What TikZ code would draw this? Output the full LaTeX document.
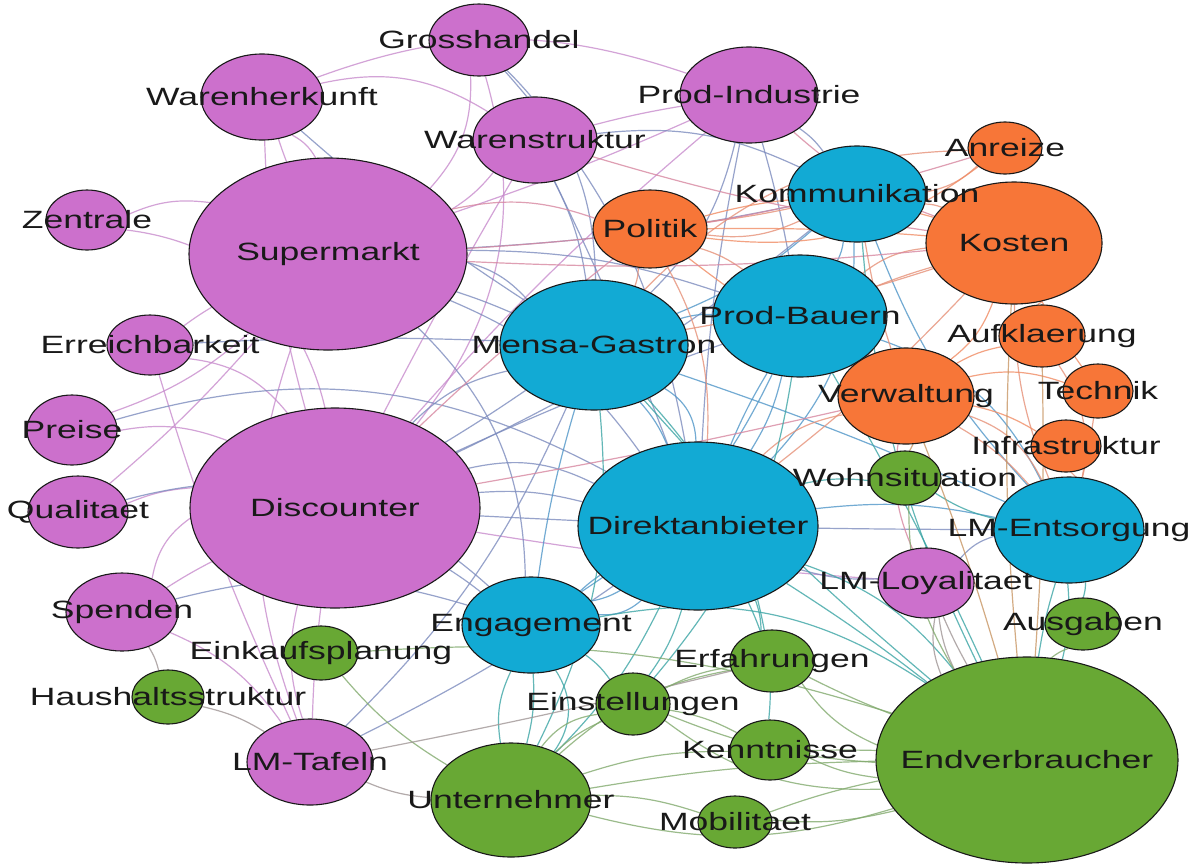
\documentclass[tikz,border=0pt]{standalone}
\usepackage{fontspec}
\newfontfamily\lbf[FakeStretch=1.42]{Liberation Sans}
\usetikzlibrary{shapes.geometric}
\definecolor{cP}{RGB}{204,112,204}
\definecolor{cB}{RGB}{18,170,212}
\definecolor{cO}{RGB}{247,118,56}
\definecolor{cG}{RGB}{104,168,52}
\definecolor{epp}{RGB}{200,140,205}
\definecolor{epb}{RGB}{125,140,190}
\definecolor{ebb}{RGB}{80,150,200}
\definecolor{ebo}{RGB}{230,145,120}
\definecolor{eoo}{RGB}{240,140,100}
\definecolor{ebg}{RGB}{60,165,165}
\definecolor{egg}{RGB}{130,170,110}
\definecolor{epg}{RGB}{160,150,150}
\definecolor{epo}{RGB}{215,135,160}
\definecolor{ego}{RGB}{200,150,100}
\pgfdeclarelayer{paper}
\pgfdeclarelayer{edges}
\pgfdeclarelayer{labels}
\pgfsetlayers{paper,edges,main,labels}
\newcommand{\Nd}[6]{\node[#6, minimum width=#4*2pt, minimum height=#5*2pt] (#1) at (#2,#3) {};}
\newcommand{\Ed}[4]{\pgfmathsetmacro{\bnd}{1.3*(#4)+9}\draw[#1] (#2) to[bend left=\bnd] (#3);}
\newcommand{\Lb}[2]{\node[lbl] (#1-l) at (#1) {#2};}
\tikzset{
  nd/.style={ellipse, draw=black!90, line width=1.1pt, inner sep=0pt},
  np/.style={nd, fill=cP}, nb/.style={nd, fill=cB},
  no/.style={nd, fill=cO}, ng/.style={nd, fill=cG},
  lbl/.style={font=\lbf\fontsize{25}{25}\selectfont, text=black!90, inner sep=0pt},
  e/.style={line width=1.2pt, opacity=0.8},
  pp/.style={e, draw=epp}, pb/.style={e, draw=epb}, bb/.style={e, draw=ebb},
  bo/.style={e, draw=ebo}, oo/.style={e, draw=eoo}, bg/.style={e, draw=ebg},
  gg/.style={e, draw=egg}, pg/.style={e, draw=epg}, po/.style={e, draw=epo},
  go/.style={e, draw=ego}
}
\begin{document}
\begin{tikzpicture}[x=1pt, y=-1pt]
\begin{pgfonlayer}{paper}
\fill[white] (0,0) rectangle (1202,863);
\end{pgfonlayer}
\useasboundingbox (0,0) rectangle (1202,863);
% nodes
\Nd{gro}{479}{40}{50}{36}{np}
\Nd{wh}{262}{97}{61}{43}{np}
\Nd{ws}{535}{140}{62}{43}{np}
\Nd{pi}{749}{95}{69}{48}{np}
\Nd{anr}{1005}{148}{37}{26}{no}
\Nd{kom}{857}{194}{69}{48}{nb}
\Nd{pol}{650}{229}{57}{39}{no}
\Nd{kos}{1014}{243}{88}{61}{no}
\Nd{zen}{87}{220}{41}{30}{np}
\Nd{sup}{328}{254}{139}{96}{np}
\Nd{erb}{150}{345}{43}{30}{np}
\Nd{men}{594}{345}{94}{65}{nb}
\Nd{pb}{800}{316}{87}{61}{nb}
\Nd{auf}{1042}{336}{43}{31}{no}
\Nd{ver}{906}{396}{68}{48}{no}
\Nd{tec}{1098}{391}{35}{27}{no}
\Nd{pre}{72}{430}{45}{35}{np}
\Nd{inf}{1066}{446}{35}{26}{no}
\Nd{wohn}{905}{478}{36}{27}{ng}
\Nd{qua}{78}{512}{50}{36}{np}
\Nd{dis}{335}{508}{145}{100}{np}
\Nd{dir}{698}{526}{120}{84}{nb}
\Nd{ent}{1069}{530}{75}{53}{nb}
\Nd{loy}{926}{583}{48}{35}{np}
\Nd{spe}{122}{612}{56}{39}{np}
\Nd{eng}{531}{625}{69}{48}{nb}
\Nd{aus}{1083}{624}{38}{26}{ng}
\Nd{eink}{321}{653}{37}{27}{ng}
\Nd{erf}{772}{661}{42}{31}{ng}
\Nd{hh}{168}{697}{36}{27}{ng}
\Nd{est}{633}{704}{37}{31}{ng}
\Nd{kenn}{770}{750}{40}{30}{ng}
\Nd{taf}{310}{762}{63}{43}{np}
\Nd{end}{1027}{760}{151}{103}{ng}
\Nd{unt}{511}{800}{80}{57}{ng}
\Nd{mob}{735}{822}{37}{26}{ng}
% edges
\begin{pgfonlayer}{edges}
% purple-purple
\Ed{pp}{gro}{sup}{10}\Ed{pp}{gro}{dis}{14}
\Ed{pp}{wh}{sup}{5}\Ed{pp}{wh}{sup}{-8}\Ed{pp}{wh}{dis}{-12}
\Ed{pp}{wh}{ws}{10}\Ed{pp}{wh}{pi}{8}
\Ed{pp}{zen}{sup}{5}\Ed{pp}{zen}{dis}{20}
\Ed{pp}{erb}{sup}{-5}\Ed{pp}{erb}{dis}{10}\Ed{pp}{erb}{taf}{-10}
\Ed{pp}{pre}{sup}{-15}\Ed{pp}{pre}{dis}{5}
\Ed{pp}{qua}{sup}{-10}\Ed{pp}{qua}{dis}{0}
\Ed{pp}{spe}{dis}{-5}\Ed{pp}{spe}{dis}{10}\Ed{pp}{spe}{taf}{5}
\Ed{pg}{spe}{hh}{0}\Ed{pg}{hh}{taf}{0}
\Ed{pp}{taf}{dis}{5}\Ed{pp}{taf}{dis}{-5}\Ed{pp}{taf}{sup}{8}
\Ed{pp}{loy}{dis}{-5}
\Ed{pp}{pi}{sup}{-5}\Ed{pp}{pi}{dis}{-10}
\Ed{pp}{ws}{sup}{0}\Ed{pp}{ws}{dis}{-8}\Ed{pp}{ws}{pi}{-5}
% purple-blue
\Ed{pb}{gro}{men}{10}\Ed{pb}{gro}{dir}{5}\Ed{pb}{wh}{men}{-10}
\Ed{pb}{ws}{men}{0}\Ed{pb}{ws}{dir}{-5}\Ed{pb}{ws}{kom}{5}
\Ed{pb}{pi}{kom}{0}\Ed{pb}{pi}{pb}{-5}\Ed{pb}{pi}{dir}{-10}\Ed{pb}{pi}{men}{5}
\Ed{pb}{sup}{men}{5}\Ed{pb}{sup}{men}{-5}\Ed{pb}{sup}{kom}{-10}
\Ed{pb}{sup}{pb}{0}\Ed{pb}{sup}{dir}{5}\Ed{pb}{sup}{eng}{10}
\Ed{pb}{dis}{men}{5}\Ed{pb}{dis}{men}{-8}\Ed{pb}{dis}{dir}{0}\Ed{pb}{dis}{dir}{8}
\Ed{pb}{dis}{pb}{-5}\Ed{pb}{dis}{eng}{-5}\Ed{pb}{dis}{kom}{-12}\Ed{pb}{dis}{ent}{-8}
\Ed{pb}{pre}{dir}{10}\Ed{pb}{qua}{eng}{15}\Ed{pb}{spe}{eng}{5}
\Ed{pb}{taf}{dir}{-10}\Ed{pb}{taf}{men}{-15}\Ed{pb}{loy}{dir}{0}
\Ed{pb}{loy}{ent}{5}\Ed{pb}{erb}{men}{-5}
% blue-blue
\Ed{bb}{kom}{men}{0}\Ed{bb}{kom}{pb}{0}\Ed{bb}{kom}{dir}{10}
\Ed{bb}{men}{dir}{0}\Ed{bb}{men}{dir}{15}\Ed{bb}{men}{pb}{0}\Ed{bb}{men}{eng}{-10}
\Ed{bb}{pb}{dir}{0}\Ed{bb}{pb}{dir}{-10}\Ed{bb}{pb}{ent}{10}\Ed{bb}{pb}{eng}{5}
\Ed{bb}{dir}{eng}{0}\Ed{bb}{dir}{eng}{10}\Ed{bb}{dir}{eng}{-10}
\Ed{bb}{dir}{ent}{0}\Ed{bb}{men}{ent}{-5}\Ed{bb}{kom}{ent}{-15}
% blue-orange
\Ed{bo}{kom}{pol}{5}\Ed{bo}{kom}{pol}{-5}\Ed{bo}{kom}{kos}{0}\Ed{bo}{kom}{ver}{-10}
\Ed{bo}{pol}{men}{0}\Ed{bo}{pol}{pb}{0}\Ed{bo}{pol}{dir}{5}
\Ed{bo}{men}{kos}{-10}\Ed{bo}{men}{anr}{10}\Ed{bo}{pb}{kos}{5}\Ed{bo}{pb}{kos}{-5}
\Ed{bo}{pb}{ver}{0}\Ed{bo}{dir}{ver}{5}\Ed{bo}{dir}{kos}{-10}
\Ed{bo}{ver}{ent}{0}\Ed{bo}{ver}{ent}{10}\Ed{bo}{inf}{ent}{0}\Ed{bo}{tec}{ent}{-5}
\Ed{bo}{kos}{ent}{-15}\Ed{bo}{auf}{ent}{10}\Ed{bo}{anr}{kom}{5}
% orange-orange
\Ed{oo}{pol}{kos}{5}\Ed{oo}{pol}{kos}{-5}\Ed{oo}{pol}{ver}{-10}\Ed{oo}{kos}{ver}{5}
\Ed{oo}{kos}{auf}{0}\Ed{oo}{ver}{auf}{0}\Ed{oo}{ver}{tec}{5}\Ed{oo}{ver}{inf}{0}
\Ed{oo}{anr}{pol}{10}\Ed{oo}{kos}{tec}{-10}
% purple-orange
\Ed{po}{sup}{pol}{5}\Ed{po}{sup}{kos}{-10}\Ed{po}{sup}{anr}{-12}\Ed{po}{pi}{kos}{-15}
\Ed{po}{ws}{kos}{-10}\Ed{po}{dis}{pol}{-5}\Ed{po}{dis}{ver}{-8}\Ed{po}{loy}{ver}{5}
% blue-green
\Ed{bg}{dir}{end}{5}\Ed{bg}{dir}{end}{-5}\Ed{bg}{dir}{unt}{0}\Ed{bg}{dir}{est}{0}
\Ed{bg}{dir}{erf}{0}\Ed{bg}{dir}{kenn}{5}\Ed{bg}{dir}{wohn}{0}
\Ed{bg}{eng}{unt}{20}\Ed{bg}{eng}{unt}{0}\Ed{bg}{eng}{unt}{-20}
\Ed{bg}{eng}{est}{0}\Ed{bg}{eng}{end}{10}\Ed{bg}{men}{unt}{5}\Ed{bg}{men}{end}{-10}
\Ed{bg}{pb}{end}{-5}\Ed{bg}{pb}{est}{5}\Ed{bg}{kom}{end}{-15}
\Ed{bg}{ent}{end}{0}\Ed{bg}{ent}{end}{-10}\Ed{bg}{ent}{aus}{0}\Ed{bg}{ent}{wohn}{0}
\Ed{bg}{men}{erf}{5}
% green-green
\Ed{pg}{end}{loy}{0}\Ed{pg}{end}{loy}{5}\Ed{pg}{end}{loy}{-5}
\Ed{gg}{end}{wohn}{5}\Ed{gg}{end}{aus}{0}
\Ed{gg}{end}{erf}{5}\Ed{gg}{end}{erf}{-5}\Ed{gg}{end}{est}{0}\Ed{gg}{end}{est}{8}
\Ed{gg}{end}{kenn}{0}\Ed{gg}{end}{kenn}{-8}\Ed{gg}{end}{mob}{0}\Ed{gg}{end}{mob}{-10}
\Ed{gg}{end}{unt}{-10}\Ed{gg}{end}{unt}{5}\Ed{gg}{end}{eink}{-15}
\Ed{gg}{unt}{est}{0}\Ed{gg}{unt}{est}{10}\Ed{gg}{unt}{erf}{5}\Ed{gg}{unt}{kenn}{0}
\Ed{gg}{unt}{mob}{0}\Ed{gg}{unt}{eink}{0}
\Ed{pg}{unt}{taf}{0}\Ed{pg}{taf}{erf}{-8}
\Ed{gg}{est}{kenn}{0}\Ed{gg}{est}{erf}{0}
% orange-green
\Ed{go}{ver}{end}{-5}\Ed{go}{ver}{wohn}{0}\Ed{go}{kos}{end}{-10}\Ed{go}{auf}{end}{-5}
\end{pgfonlayer}
% labels
\begin{pgfonlayer}{labels}
\Lb{gro}{Grosshandel}
\Lb{wh}{Warenherkunft}
\Lb{ws}{Warenstruktur}
\Lb{pi}{Prod-Industrie}
\Lb{anr}{Anreize}
\Lb{kom}{Kommunikation}
\Lb{pol}{Politik}
\Lb{kos}{Kosten}
\Lb{zen}{Zentrale}
\Lb{sup}{Supermarkt}
\Lb{erb}{Erreichbarkeit}
\Lb{men}{Mensa-Gastron}
\Lb{pb}{Prod-Bauern}
\Lb{auf}{Aufklaerung}
\Lb{ver}{Verwaltung}
\Lb{tec}{Technik}
\Lb{pre}{Preise}
\Lb{inf}{Infrastruktur}
\Lb{wohn}{Wohnsituation}
\Lb{qua}{Qualitaet}
\Lb{dis}{Discounter}
\Lb{dir}{Direktanbieter}
\Lb{ent}{LM-Entsorgung}
\Lb{loy}{LM-Loyalitaet}
\Lb{spe}{Spenden}
\Lb{eng}{Engagement}
\Lb{aus}{Ausgaben}
\Lb{eink}{Einkaufsplanung}
\Lb{erf}{Erfahrungen}
\Lb{hh}{Haushaltsstruktur}
\Lb{est}{Einstellungen}
\Lb{kenn}{Kenntnisse}
\Lb{taf}{LM-Tafeln}
\Lb{end}{Endverbraucher}
\Lb{unt}{Unternehmer}
\Lb{mob}{Mobilitaet}
\end{pgfonlayer}
\end{tikzpicture}
\end{document}
